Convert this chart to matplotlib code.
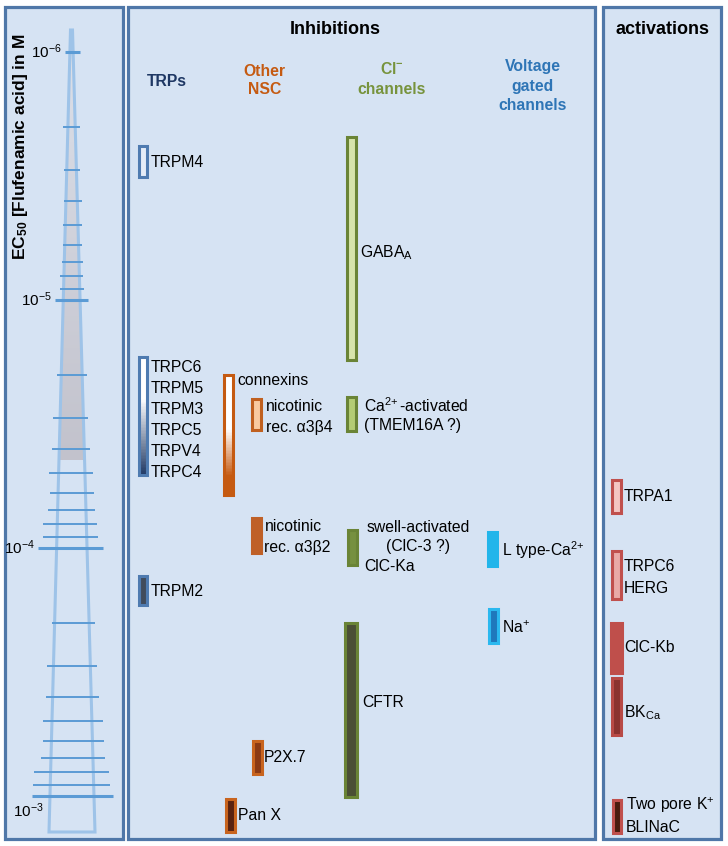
import numpy as np
import matplotlib
matplotlib.use("Agg")
import matplotlib.pyplot as plt
from matplotlib.patches import Rectangle, Polygon
from matplotlib.colors import to_rgb

plt.rcParams['font.family'] = ['Liberation Sans', 'DejaVu Sans']
plt.rcParams['mathtext.fontset'] = 'custom'
plt.rcParams['mathtext.rm'] = 'Liberation Sans'
plt.rcParams['mathtext.it'] = 'Liberation Sans:italic'
plt.rcParams['mathtext.bf'] = 'Liberation Sans:bold'

# EC50 ranges of flufenamic acid (M)
trp_labels = [["TRPM4"], ["TRPC6", "TRPM5", "TRPM3", "TRPC5", "TRPV4", "TRPC4"], ["TRPM2"]]
trp_lo = [2.4e-6, 1.7e-5, 1.3e-4]
trp_hi = [3.2e-6, 5.1e-5, 1.7e-4]

nsc_labels = [["connexins"], ["nicotinic", "rec. α3β4"], ["nicotinic", "rec. α3β2"], ["P2X.7"], ["Pan X"]]
nsc_lo = [2.0e-5, 2.5e-5, 7.6e-5, 6.0e-4, 1.03e-3]
nsc_hi = [6.1e-5, 3.35e-5, 1.05e-4, 8.15e-4, 1.4e-3]

cl_labels = [[r"GABA$_\mathregular{A}$"], [r"Ca$^{2\!+}$-activated", "(TMEM16A ?)"],
             ["swell-activated", "(ClC-3 ?)", "ClC-Ka"], ["CFTR"]]
cl_lo = [2.2e-6, 2.46e-5, 8.5e-5, 2.0e-4]
cl_hi = [1.75e-5, 3.37e-5, 1.17e-4, 1.01e-3]

vg_labels = [[r"L type-Ca$^{2\!+}$"], [r"Na$^{+}$"]]
vg_lo = [8.6e-5, 1.76e-4]
vg_hi = [1.18e-4, 2.42e-4]

act_labels = [["TRPA1"], ["TRPC6", "HERG"], ["ClC-Kb"], [r"BK$_\mathregular{Ca}$"],
              [r"Two pore K$^{+}$", "BLINaC"]]
act_lo = [5.3e-5, 1.03e-4, 2.0e-4, 3.35e-4, 1.04e-3]
act_hi = [7.2e-5, 1.61e-4, 3.2e-4, 5.7e-4, 1.41e-3]

# ruler ticks 1e-6 ... 1e-3 (mantissa 1..9 per decade)
tick_vals = [m * 10.0 ** e for e in (-6, -5, -4) for m in range(1, 10)] + [1e-3]
# left / right end of each ruler tick (px)
tick_left = [65, 63, 64, 64, 63, 63, 62, 60, 60,
             55, 57, 53, 52, 49, 50, 48, 43, 43,
             38, 52, 47, 46, 43, 43, 41, 34, 33, 32]
tick_right = [80, 80, 80, 82, 82, 82, 83, 83, 84,
              88, 87, 88, 90, 93, 94, 95, 97, 98,
              103, 95, 97, 99, 103, 104, 105, 109, 110, 113]

PANEL_BG = '#d6e3f3'
PANEL_EDGE = '#4f77a8'

fig = plt.figure(figsize=(7.28, 8.46), dpi=100)
bg = fig.add_axes([0, 0, 1, 1])
bg.set_xlim(0, 728)
bg.set_ylim(846, 0)
bg.axis('off')

for x0, x1 in [(5, 123), (128, 595), (603, 721)]:
    bg.add_patch(Rectangle((x0, 7), x1 - x0, 832, facecolor=PANEL_BG,
                           edgecolor=PANEL_EDGE, lw=2.3))

# pyramid with grey gradient in its upper part
tri = Polygon([(70.5, 30), (72.5, 30), (95, 832), (49, 832)], closed=True,
              facecolor='none', edgecolor='#9ec3e8', lw=2.2, zorder=3)
bg.add_patch(tri)
clip = Polygon([(70.5, 30), (72.5, 30), (84.5, 460), (59.5, 460)], closed=True,
               facecolor='none', edgecolor='none')
bg.add_patch(clip)
c_top, c_bot = np.array(to_rgb('#dde1ea')), np.array(to_rgb('#c2c2cc'))
t = np.linspace(0, 1, 200)[:, None, None]
grad = c_top * (1 - t) + c_bot * t
im = bg.imshow(grad, extent=(45, 100, 460, 30), aspect='auto', zorder=2)
im.set_clip_path(clip)
bg.set_xlim(0, 728)
bg.set_ylim(846, 0)

# titles
bg.text(21, 147, r"EC$_{\mathbf{50}}$ [Flufenamic acid] in M", rotation=90,
        ha='center', va='center', fontsize=12.5, fontweight='bold')
bg.text(335, 30, "Inhibitions", ha='center', va='center', fontsize=13, fontweight='bold')
bg.text(663, 29, "activations", ha='center', va='center', fontsize=13, fontweight='bold')
bg.text(167, 81, "TRPs", ha='center', va='center', fontsize=11.3, fontweight='bold', color='#1f3864')
for s, y in [("Other", 71), ("NSC", 90)]:
    bg.text(264.5, y, s, ha='center', va='center', fontsize=11.3, fontweight='bold', color='#c55a11')
for s, y in [(r"Cl$^{\mathbf{-}}$", 69), ("channels", 89)]:
    bg.text(392, y, s, ha='center', va='center', fontsize=11.3, fontweight='bold', color='#77933c')
for s, y in [("Voltage", 67), ("gated", 87), ("channels", 105)]:
    bg.text(533, y, s, ha='center', va='center', fontsize=11.3, fontweight='bold', color='#2e75b6')

# data axes: log concentration, 10^-6 at top
ax = fig.add_axes([0, 0, 1, 1])
ax.patch.set_alpha(0)
ax.set_yscale('log')
ax.set_xlim(0, 728)
ax.set_ylim(10 ** (-6 + (846 - 52) / 248), 10 ** (-6 - 52 / 248))
ax.axis('off')

major = [v for v in tick_vals if np.isclose(np.log10(v), round(np.log10(v)))]
for v, l, r in zip(tick_vals, tick_left, tick_right):
    is_major = v in major
    ax.plot([l, r], [v, v], color='#5b9bd5', lw=2.2 if is_major else 1.4,
            solid_capstyle='butt', zorder=4)
for v in major:
    i = tick_vals.index(v)
    lab = r"10$^{%d}$" % round(np.log10(v))
    if v == 1e-3:
        ax.annotate(lab, (28, v), xytext=(0, -15), textcoords='offset pixels',
                    ha='center', va='center', fontsize=11)
    else:
        ax.text(tick_left[i] - 3, v, lab, ha='right', va='center', fontsize=11)


def draw_bar(x, lo, hi, fill, edge, w=9, lw=2.2, grad=None):
    if grad is not None:
        c0, c1, start, span = grad
        edges = np.logspace(np.log10(lo), np.log10(hi), 81)
        tt = np.linspace(0, 1, 80)
        s = np.clip((tt - start) / span, 0, 1)
        cols = [tuple(np.array(to_rgb(c0)) * (1 - k) + np.array(to_rgb(c1)) * k) for k in s]
        ax.bar(x, np.diff(edges), bottom=edges[:-1], width=w, color=cols, lw=0, zorder=5)
        ax.bar(x, hi - lo, bottom=lo, width=w, fill=False, edgecolor=edge, lw=lw, zorder=6)
    else:
        ax.bar(x, hi - lo, bottom=lo, width=w, color=fill, edgecolor=edge, lw=lw, zorder=5)


def label(x, w, lo, hi, lines, dx, dys, ha='left'):
    mid = np.sqrt(lo * hi)
    for s, dy in zip(lines, dys):
        ax.annotate(s, (x + w / 2, mid), xytext=(dx, -dy), textcoords='offset pixels',
                    ha=ha, va='center', fontsize=11.3, zorder=7)


# TRPs
trp_style = [dict(x=142.5, fill='#e4ecf7', edge='#4f7bb0'),
             dict(x=142.5, fill=None, edge='#4f7bb0', grad=('#ffffff', '#1f3864', 0.35, 0.65)),
             dict(x=142.5, fill='#414c5c', edge='#4f7bb0')]
trp_dys = [[1], [-49, -28, -7, 14, 35, 56], [1]]
for st, lo, hi, lines, dys in zip(trp_style, trp_lo, trp_hi, trp_labels, trp_dys):
    draw_bar(st['x'], lo, hi, st['fill'], st['edge'], w=8, grad=st.get('grad'))
    label(st['x'], 8, lo, hi, lines, 4, dys)

# other NSC
nsc_style = [dict(x=228.5, fill=None, edge='#c55a11', grad=('#ffffff', '#c55a11', 0.45, 0.4)),
             dict(x=256, fill='#f9caa0', edge='#c0601f'),
             dict(x=256, fill='#bf6027', edge='#bf6027'),
             dict(x=257, fill='#8b3a14', edge='#c8641e'),
             dict(x=230, fill='#5a2310', edge='#c8641e')]
nsc_dx = [4, 5, 4, 2, 3]
nsc_dys = [[-54], [-7.5, 13.5], [-9, 12], [0], [0]]
for st, lo, hi, lines, dx, dys in zip(nsc_style, nsc_lo, nsc_hi, nsc_labels, nsc_dx, nsc_dys):
    draw_bar(st['x'], lo, hi, st['fill'], st['edge'], w=9, grad=st.get('grad'))
    label(st['x'], 9, lo, hi, lines, dx, dys)

# Cl- channels
cl_style = [dict(x=351, fill='#d7e4ab', edge='#6a8436', w=9),
            dict(x=351, fill='#b4cc74', edge='#6a8436', w=9),
            dict(x=352, fill='#76903f', edge='#6a8436', w=9),
            dict(x=350.5, fill='#4b4f35', edge='#6a8436', w=12)]
for st, lo, hi in zip(cl_style, cl_lo, cl_hi):
    draw_bar(st['x'], lo, hi, st['fill'], st['edge'], w=st['w'])
label(351, 9, cl_lo[0], cl_hi[0], cl_labels[0], 4, [4])
label(351, 9, cl_lo[1], cl_hi[1], cl_labels[1], 8, [-8, 12])
label(352, 9, cl_lo[2], cl_hi[2], cl_labels[2][:2], 62, [-20.5, -1.5], ha='center')
label(352, 9, cl_lo[2], cl_hi[2], cl_labels[2][2:], 8, [18.5])
label(350.5, 12, cl_lo[3], cl_hi[3], cl_labels[3], 6, [-7])

# voltage gated
vg_style = [dict(x=492, fill='#22b5ea', edge='#22b5ea'),
            dict(x=493, fill='#1f78bb', edge='#2ab8ef')]
vg_dys = [[1], [2]]
for st, lo, hi, lines, dys in zip(vg_style, vg_lo, vg_hi, vg_labels, vg_dys):
    draw_bar(st['x'], lo, hi, st['fill'], st['edge'], w=9)
    label(st['x'], 9, lo, hi, lines, 5, dys)

# activations
act_style = [dict(x=616, fill='#f4c6c3', edge='#c0504d', w=9),
             dict(x=616, fill='#e9aaa7', edge='#c0504d', w=9),
             dict(x=616, fill='#bf4f4b', edge='#bf4f4b', w=11),
             dict(x=616, fill='#8a3330', edge='#b84a46', w=9),
             dict(x=617, fill='#4a1c0f', edge='#c0504d', w=8)]
act_dx = [3, 3, 3, 3, 5]
act_dys = [[0], [-9, 13], [0], [5.5], [-11, 11]]
for st, lo, hi, lines, dx, dys in zip(act_style, act_lo, act_hi, act_labels, act_dx, act_dys):
    draw_bar(st['x'], lo, hi, st['fill'], st['edge'], w=st['w'])
    label(st['x'], st['w'], lo, hi, lines, dx, dys)

fig.savefig("out.png", dpi=100)
